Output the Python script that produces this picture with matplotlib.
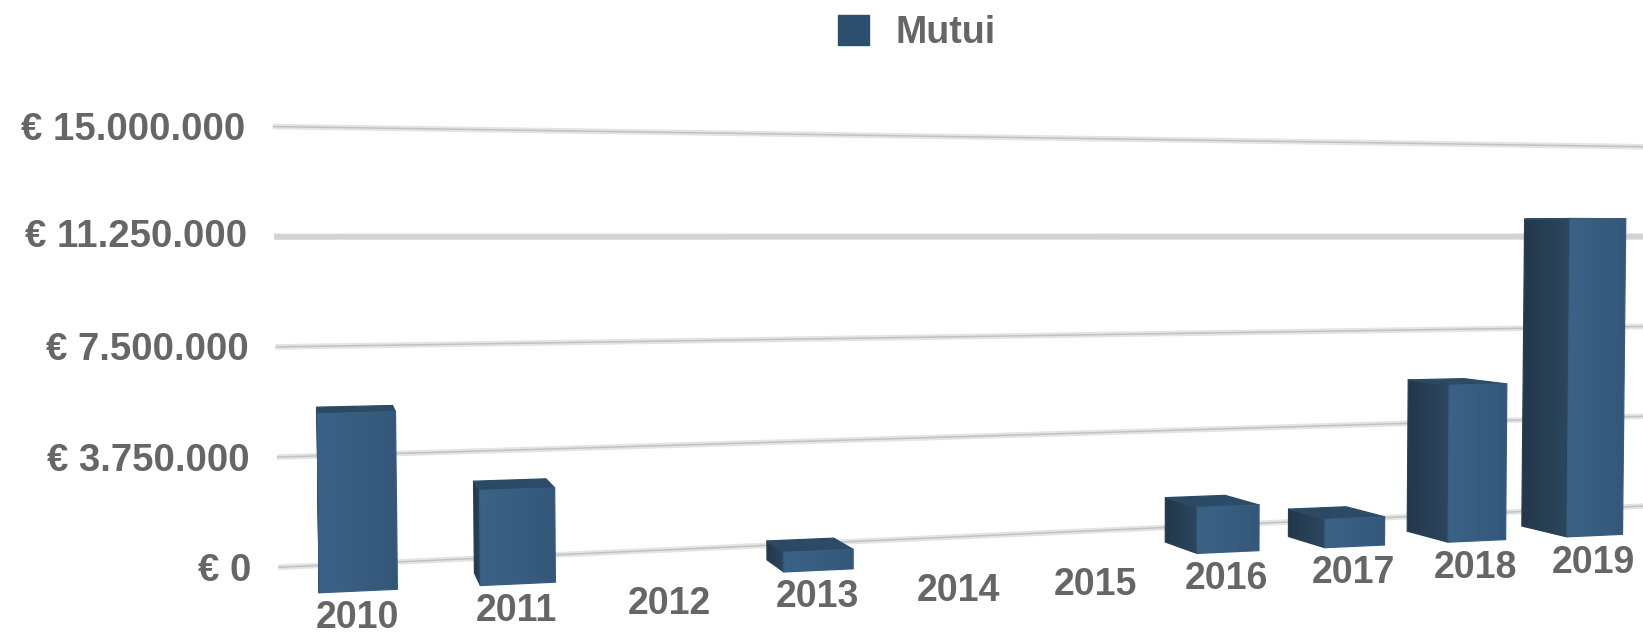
#!/usr/bin/env python3
# -*- coding: utf-8 -*-
"""
Mutui per anno: barre 3D in prospettiva, fatte a mano su assi 2D in pixel.
"""
import matplotlib
matplotlib.use('Agg')

import numpy as np
import matplotlib.pyplot as plt
from matplotlib.colors import LinearSegmentedColormap
from matplotlib.patches import Patch, Polygon

years = [2010, 2011, 2012, 2013, 2014, 2015, 2016, 2017, 2018, 2019]
mutui = [5680000, 3080000, 0, 660000, 0, 0, 1640000, 1030000, 5800000, 11970000]
y_ticks = [0, 3750000, 7500000, 11250000, 15000000]
y_labels = ['€ 0', '€ 3.750.000', '€ 7.500.000', '€ 11.250.000', '€ 15.000.000']

TEXT = '#666666'
BAR_HALF = 0.24
DEPTH_BAR = 0.036
DEPTH_WALL = 0.074
VP = (315.0, 237.3)


def project(i, v, k=0.0):
    '''Category position, value in euro and depth -> picture pixel

    Args:
        i (float): category index
        v (float): value in euro
        k (float): depth, fraction of the way to the vanishing point
    '''
    i = np.asarray(i, dtype=float)
    m = np.asarray(v, dtype=float) / 1e6
    w = 1 + 0.02065 * i
    x = (358.5 + 170.3 * i) / w
    y = (591 + 4.9 * i - 31.4 * m) / w
    # verticals open slightly going up
    x = x + 0.0005 * m * (x - 1078)
    return x + k * (VP[0] - x), y + k * (VP[1] - y)


def shaded(ax, pts, col0, col1):
    '''Fill a polygon with a left to right gradient'''
    pts = np.array(pts, dtype=float)
    cmap = LinearSegmentedColormap.from_list('face', [col0, col1])
    box = (pts[:, 0].min(), pts[:, 0].max(), pts[:, 1].max(), pts[:, 1].min())
    img = ax.imshow(np.linspace(0, 1, 64).reshape(1, -1), cmap=cmap, extent=box,
                    aspect='auto', interpolation='bilinear', zorder=3)
    img.set_clip_path(Polygon(pts, transform=ax.transData))
    # soft edge, the image clip is jagged
    edge = cmap(0.5)
    ax.add_patch(Polygon(pts, closed=True, fill=False, ec=edge, lw=0.9,
                         joinstyle='round', zorder=3))


fig = plt.figure(figsize=(16.43, 6.36), dpi=100)
ax = fig.add_axes([0, 0, 1, 1])
plt.rcParams['font.family'] = ['Liberation Sans', 'DejaVu Sans']

# grid on the back wall
for tick, lab in zip(y_ticks, y_labels):
    gx, gy = project([-0.505, 10.6], [tick, tick], DEPTH_WALL)
    gy = gy - 1
    if tick == 11250000:
        ax.plot(gx, gy, color='#d3d3d3', lw=4.4, solid_capstyle='butt', zorder=1)
        dy = 0.5
    else:
        ax.plot(gx, gy, color='#e4e4e4', lw=4.0, solid_capstyle='butt', zorder=1)
        ax.plot(gx, gy, color='#c2c2c2', lw=1.1, solid_capstyle='butt', zorder=2)
        dy = 3.5
    ax.text(gx[0] - 27, gy[0] + dy, lab, ha='right', va='center', fontsize=27.6,
            fontweight='bold', color=TEXT)

# bars
for i, (year, val) in enumerate(zip(years, mutui)):
    bx, by = project(i, 0)
    ax.text(bx - 1.5, by + 27, str(year), ha='center', va='center', fontsize=27,
            fontweight='bold', color=TEXT, zorder=5)
    if val == 0:
        continue
    fl_b = project(i - BAR_HALF, 0)
    fr_b = project(i + BAR_HALF, 0)
    fl_t = project(i - BAR_HALF, val)
    fr_t = project(i + BAR_HALF, val)
    bl_b = project(i - BAR_HALF, 0, DEPTH_BAR)
    bl_t = project(i - BAR_HALF, val, DEPTH_BAR)
    br_t = project(i + BAR_HALF, val, DEPTH_BAR)
    shaded(ax, [bl_t, fl_t, fl_b, bl_b], '#23374a', '#2c475e')
    shaded(ax, [bl_t, br_t, fr_t, fl_t], '#2a4962', '#2c4c69')
    shaded(ax, [fl_t, fr_t, fr_b, fl_b], '#3b6387', '#345779')

ax.set_xlim(0, 1643)
ax.set_ylim(636, 0)
ax.axis('off')

ax.legend(handles=[Patch(color='#2c4f70', label='Mutui')], loc='center',
          bbox_to_anchor=(917 / 1643, 1 - 33 / 636), frameon=False,
          labelcolor=TEXT, prop={'weight': 'bold', 'size': 27}, handlelength=0.82,
          handleheight=0.85, handletextpad=0.72)

plt.savefig('out.png', dpi=100)
